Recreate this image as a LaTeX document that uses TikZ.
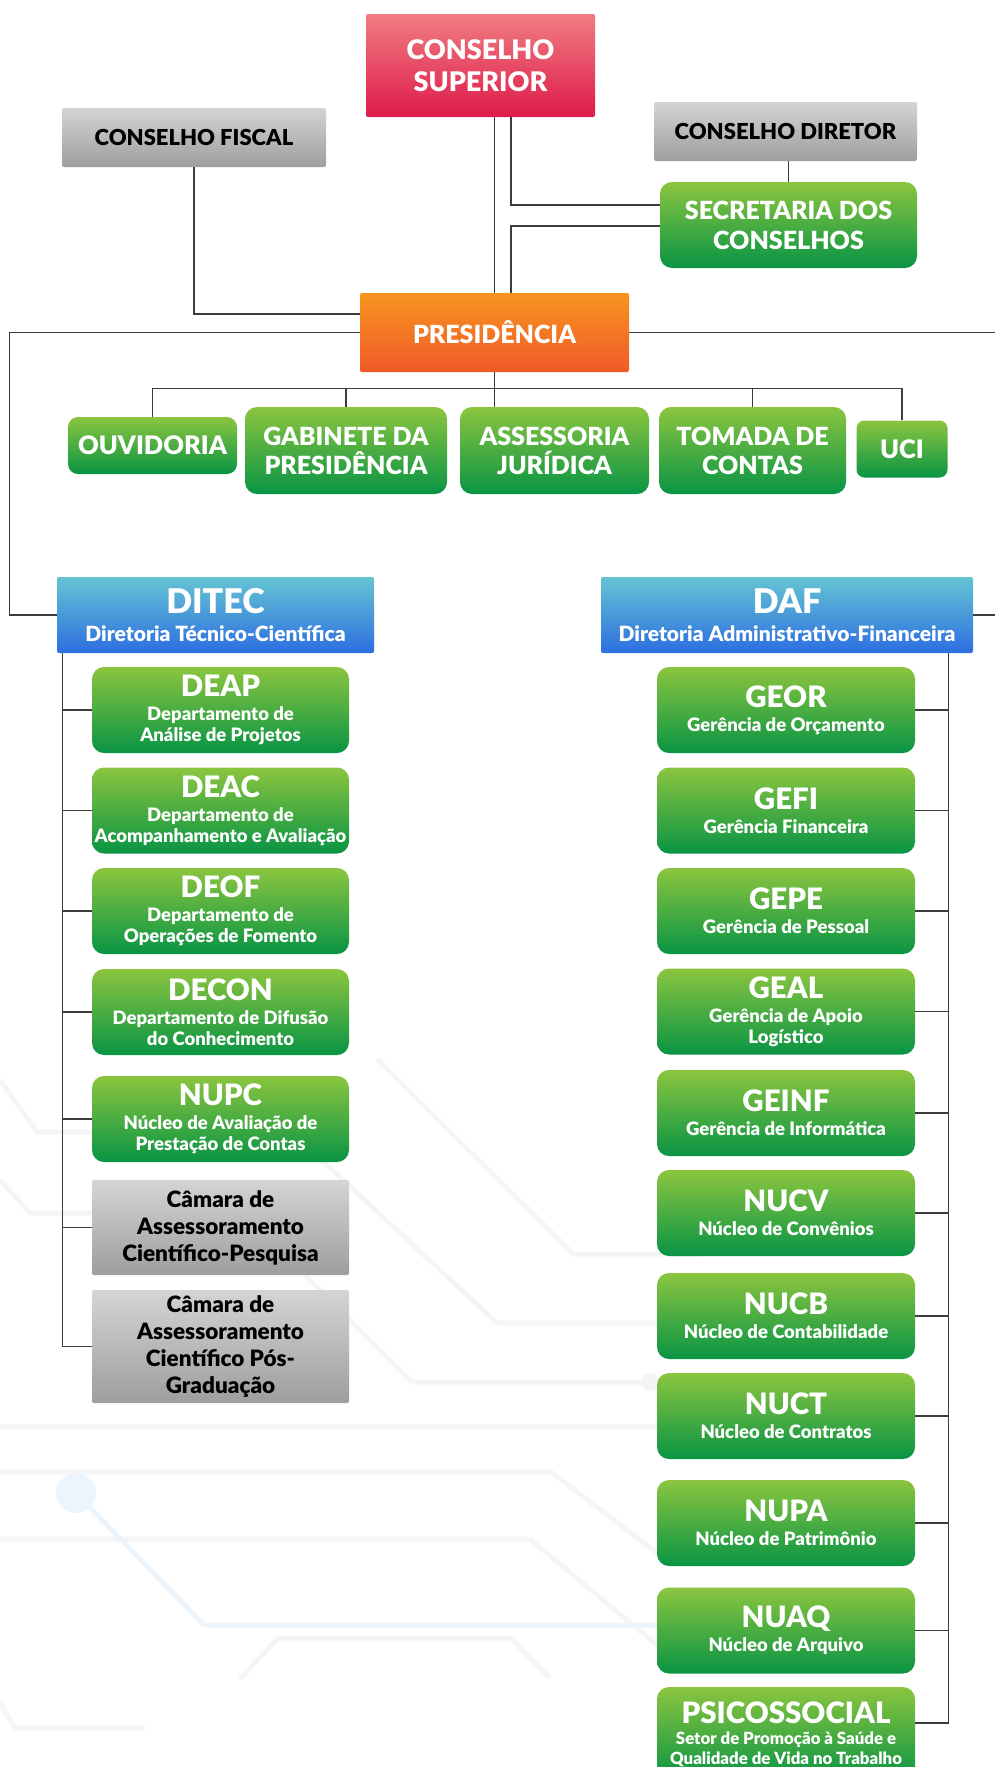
\documentclass[tikz,border=0pt]{standalone}
\usepackage{fontspec}
\setmainfont{Lato}[BoldFont={Lato Black}]
\usepackage{tikz}
\usetikzlibrary{calc,positioning}

\definecolor{grnTop}{RGB}{139,197,63}
\definecolor{grnBot}{RGB}{9,148,68}
\definecolor{gryTop}{RGB}{212,212,212}
\definecolor{gryBot}{RGB}{158,158,158}
\definecolor{redTop}{RGB}{241,124,130}
\definecolor{redBot}{RGB}{221,27,74}
\definecolor{orgTop}{RGB}{247,148,30}
\definecolor{orgBot}{RGB}{240,90,40}
\definecolor{bluTop}{RGB}{100,196,210}
\definecolor{bluBot}{RGB}{45,110,225}
\definecolor{wireGray}{RGB}{60,60,60}
\definecolor{trace}{RGB}{245,245,245}
\definecolor{traceBlue}{RGB}{237,245,252}

\newcommand{\sigla}[1]{{\fontsize{29.5}{29}\selectfont #1}}
\newcommand{\diretoria}[1]{{\fontsize{34}{34}\selectfont #1}}

\begin{document}
\begin{tikzpicture}[x=1pt,y=-1pt,font=\bfseries,inner sep=0pt]

   \tikzstyle{sector}=[top color=grnTop,bottom color=grnBot,rounded corners=12pt,text=white,align=center,minimum width=257pt,minimum height=86pt,font=\bfseries\fontsize{18.5}{21}\selectfont]
   \tikzstyle{board}=[top color=gryTop,bottom color=gryBot,rounded corners=2pt,text=black,align=center]
   \tikzstyle{chief}=[rounded corners=2pt,text=white,align=center]
   \tikzstyle{head}=[top color=bluTop,bottom color=bluBot,rounded corners=2pt,text=white,align=center,minimum height=76pt,font=\bfseries\fontsize{21}{24}\selectfont]
   \tikzstyle{wire}=[draw=wireGray,line width=1.2pt]
   \tikzstyle{pcb}=[draw=trace,line width=5pt,line join=round]

   \useasboundingbox (0,0) rectangle (995,1767);
   \fill[white] (0,0) rectangle (995,1767);

   % faint circuit tracks in the background
   \draw[pcb] (0,1080) -- (37,1132) -- (100,1132);
   \draw[pcb] (0,1180) -- (30,1213) -- (100,1213);
   \draw[pcb] (377,1059) -- (573,1254) -- (700,1254);
   \draw[pcb] (300,1140) -- (497,1323) -- (700,1323);
   \draw[pcb] (300,1270) -- (412,1382) -- (650,1382);
   \fill[trace] (650,1382) circle (9);
   \draw[pcb] (0,1426) -- (700,1426);
   \draw[pcb] (0,1472) -- (551,1472) -- (670,1563);
   \draw[pcb] (0,1539) -- (530,1539) -- (670,1656);
   \draw[pcb,draw=traceBlue] (76,1493) -- (204,1625) -- (700,1625);
   \fill[traceBlue] (76,1493) circle (20);
   \draw[pcb] (240,1679) -- (278,1638) -- (511,1638) -- (550,1678);
   \draw[pcb] (0,1703) -- (15,1728) -- (145,1728);

   % top of the chart
   \node[chief,top color=redTop,bottom color=redBot,minimum width=229pt,minimum height=103pt,
     font=\bfseries\fontsize{27}{32}\selectfont] (cs) at (480.5,65.5) {CONSELHO\\SUPERIOR};
   \node[board,minimum width=264pt,minimum height=59pt,font=\bfseries\fontsize{22}{26}\selectfont]
     (cf) at (194,137.5) {CONSELHO FISCAL};
   \node[board,minimum width=263pt,minimum height=59pt,font=\bfseries\fontsize{22}{26}\selectfont]
     (cd) at (785.5,131.5) {CONSELHO DIRETOR};
   \node[sector,minimum width=257pt,minimum height=86pt,font=\bfseries\fontsize{25}{30}\selectfont]
     (sec) at (788.5,225) {SECRETARIA DOS\\CONSELHOS};
   \node[chief,top color=orgTop,bottom color=orgBot,minimum width=269pt,minimum height=79pt,
     font=\bfseries\fontsize{25}{29}\selectfont] (pres) at (494.5,332.5) {PRESIDÊNCIA};

   % row under the presidency
   \node[sector,minimum width=169pt,minimum height=57pt,rounded corners=10pt,font=\bfseries\fontsize{25.5}{29}\selectfont]
     (ouv) at (152.5,445.5) {OUVIDORIA};
   \node[sector,minimum width=202pt,minimum height=87pt,font=\bfseries\fontsize{25}{29}\selectfont]
     (gab) at (346,450.5) {GABINETE DA\\PRESIDÊNCIA};
   \node[sector,minimum width=189pt,minimum height=87pt,font=\bfseries\fontsize{25}{29}\selectfont]
     (ass) at (554.5,450.5) {ASSESSORIA\\JURÍDICA};
   \node[sector,minimum width=187pt,minimum height=87pt,font=\bfseries\fontsize{25}{29}\selectfont]
     (tom) at (752.5,450.5) {TOMADA DE\\CONTAS};
   \node[sector,minimum width=91pt,minimum height=57pt,rounded corners=8pt,font=\bfseries\fontsize{25.5}{29}\selectfont]
     (uci) at (902,449) {UCI};

   % the two boards of directors
   \node[head,minimum width=317pt] (ditec) at (215.5,615)
     {\diretoria{DITEC}\\[4pt]Diretoria Técnico-Científica};
   \node[head,minimum width=372pt] (daf) at (787,615)
     {\diretoria{DAF}\\[4pt]Diretoria Administrativo-Financeira};

   % DITEC units
   \node[sector] (deap) at (220.5,710) {\sigla{DEAP}\\[3pt]Departamento de\\Análise de Projetos};
   \node[sector] (deac) at (220.5,810.5) {\sigla{DEAC}\\[3pt]Departamento de\\Acompanhamento e Avaliação};
   \node[sector] (deof) at (220.5,911) {\sigla{DEOF}\\[3pt]Departamento de\\Operações de Fomento};
   \node[sector] (decon) at (220.5,1012) {\sigla{DECON}\\[3pt]Departamento de Difusão\\do Conhecimento};
   \node[sector] (nupc) at (220.5,1119) {\sigla{NUPC}\\[3pt]Núcleo de Avaliação de\\Prestação de Contas};
   \node[board,minimum width=257pt,minimum height=95pt,font=\bfseries\fontsize{22.5}{27}\selectfont]
     (cam1) at (220.5,1227.5) {Câmara de\\Assessoramento\\Científico-Pesquisa};
   \node[board,minimum width=257pt,minimum height=113pt,font=\bfseries\fontsize{22.5}{27}\selectfont]
     (cam2) at (220.5,1346.5) {Câmara de\\Assessoramento\\Científico Pós-\\Graduação};

   % DAF units
   \node[sector,minimum width=258pt] (geor) at (786,710) {\sigla{GEOR}\\[3pt]Gerência de Orçamento};
   \node[sector,minimum width=258pt] (gefi) at (786,810.5) {\sigla{GEFI}\\[3pt]Gerência Financeira};
   \node[sector,minimum width=258pt] (gepe) at (786,911) {\sigla{GEPE}\\[3pt]Gerência de Pessoal};
   \node[sector,minimum width=258pt] (geal) at (786,1011.5) {\sigla{GEAL}\\[3pt]Gerência de Apoio\\Logístico};
   \node[sector,minimum width=258pt] (geinf) at (786,1113) {\sigla{GEINF}\\[3pt]Gerência de Informática};
   \node[sector,minimum width=258pt] (nucv) at (786,1213) {\sigla{NUCV}\\[3pt]Núcleo de Convênios};
   \node[sector,minimum width=258pt] (nucb) at (786,1316) {\sigla{NUCB}\\[3pt]Núcleo de Contabilidade};
   \node[sector,minimum width=258pt] (nuct) at (786,1416) {\sigla{NUCT}\\[3pt]Núcleo de Contratos};
   \node[sector,minimum width=258pt] (nupa) at (786,1523) {\sigla{NUPA}\\[3pt]Núcleo de Patrimônio};
   \node[sector,minimum width=258pt] (nuaq) at (786,1630.5) {\sigla{NUAQ}\\[3pt]Núcleo de Arquivo};
   \node[sector,minimum width=258pt,minimum height=94pt,font=\bfseries\fontsize{16.8}{20}\selectfont]
     (psico) at (786,1734) {\sigla{PSICOSSOCIAL}\\[1pt]Setor de Promoção à Saúde e\\Qualidade de Vida no Trabalho};

   % connectors, top part
   \coordinate (csb) at ($(cs.south)+(30.5,0)$);
   \draw[wire] (pres.north |- cs.south) -- (pres.north);
   \draw[wire] (csb) |- ($(sec.west)+(0,-20)$);
   \draw[wire] ($(sec.west)+(0,1)$) -| (csb |- pres.north);
   \draw[wire] (cd.south -| sec.north) -- (sec.north);
   \draw[wire] (cf.south) |- ($(pres.west)+(0,-18.5)$);
   \draw[wire] (pres.west) -| ($(ditec.west)+(-47,0)$) -- (ditec.west);
   \draw[wire] (pres.east) -| ($(daf.east)+(27,0)$) -- (daf.east);

   % connectors, presidency row
   \coordinate (bus) at ($(uci.north)+(0,-32)$);
   \draw[wire] (pres.south) -- (pres.south |- ass.north);
   \draw[wire] (ouv.north) |- (bus) -- (uci.north);
   \draw[wire] (gab.north) -- (gab.north |- bus)
               (tom.north) -- (tom.north |- bus);

   % connectors, DITEC
   \coordinate (dv) at ($(ditec.south west)+(6,0)$);
   \draw[wire] (dv) |- (cam2.west);
   \draw[wire] (dv |- deap.west) -- (deap.west)
               (dv |- deac.west) -- (deac.west)
               (dv |- deof.west) -- (deof.west)
               (dv |- decon.west) -- (decon.west)
               (dv |- nupc.west) -- (nupc.west)
               (dv |- cam1.west) -- (cam1.west);

   % connectors, DAF
   \coordinate (fv) at ($(daf.south east)+(-25,0)$);
   \draw[wire] (fv) |- ($(psico.east)+(0,-11)$);
   \draw[wire] (fv |- geor.east) -- (geor.east)
               (fv |- gefi.east) -- (gefi.east)
               (fv |- gepe.east) -- (gepe.east)
               (fv |- geal.east) -- (geal.east)
               (fv |- geinf.east) -- (geinf.east)
               (fv |- nucv.east) -- (nucv.east)
               (fv |- nucb.east) -- (nucb.east)
               (fv |- nuct.east) -- (nuct.east)
               (fv |- nupa.east) -- (nupa.east)
               (fv |- nuaq.east) -- (nuaq.east);

\end{tikzpicture}
\end{document}
